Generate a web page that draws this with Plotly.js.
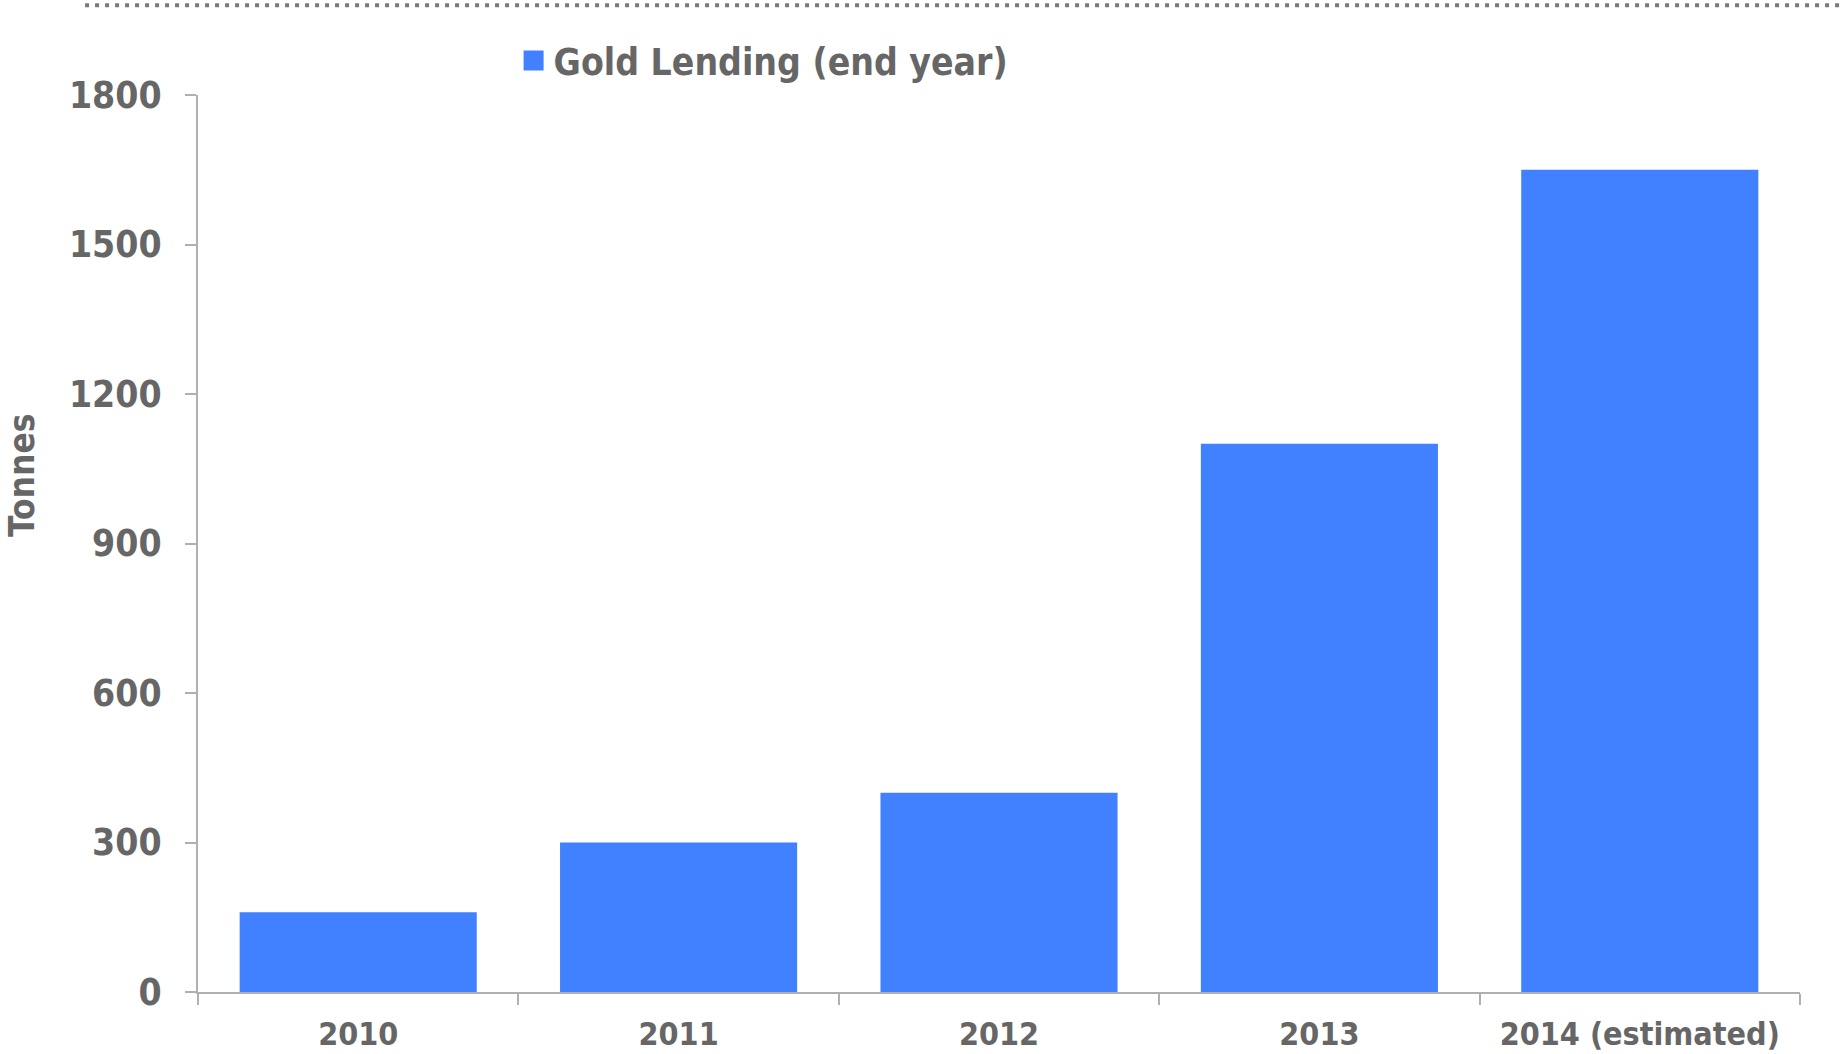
<!DOCTYPE html>
<html>
<head>
<meta charset="utf-8">
<script src="https://cdn.plot.ly/plotly-3.0.1.min.js"></script>
<style>
  html, body { margin: 0; padding: 0; background: #ffffff; }
  #chart { width: 1843px; height: 1054px; }
</style>
</head>
<body>
<div id="chart"></div>
<script>
const categories = ["2010", "2011", "2012", "2013", "2014 (estimated)"];
const lendingTonnes = [160, 300, 400, 1100, 1650];
const seriesName = "Gold Lending (end year)";
const yTickValues = [0, 300, 600, 900, 1200, 1500, 1800];
const yAxisLabel = "Tonnes";

const FONT = "DejaVu Sans Condensed, DejaVu Sans, sans-serif";
const TEXT = "#666666";
const BAR = "#4181ff";
const AXIS = "#b0b0b0";

const trace = {
  type: "bar",
  x: categories,
  y: lendingTonnes,
  name: seriesName,
  marker: { color: BAR },
  showlegend: true,
  hoverinfo: "x+y"
};

const layout = {
  width: 1843,
  height: 1054,
  margin: { l: 198, r: 43, t: 95, b: 62, pad: 0 },
  paper_bgcolor: "#ffffff",
  plot_bgcolor: "#ffffff",
  bargap: 0.26,
  showlegend: true,
  legend: {
    orientation: "h",
    x: 0.197, xanchor: "left",
    y: 1.038, yanchor: "middle",
    font: { family: FONT, size: 37, color: TEXT, weight: "bold" },
    bgcolor: "rgba(0,0,0,0)",
    borderwidth: 0
  },
  xaxis: {
    type: "category",
    showline: true, linecolor: AXIS, linewidth: 2,
    ticks: "outside", tickson: "boundaries", ticklen: 11, tickwidth: 2, tickcolor: AXIS,
    showgrid: false, zeroline: false,
    tickfont: { family: FONT, size: 32, color: TEXT, weight: "bold" },
    ticklabelstandoff: 13
  },
  yaxis: {
    range: [0, 1800],
    tickvals: yTickValues,
    ticktext: yTickValues.map(String),
    showline: true, linecolor: AXIS, linewidth: 2,
    ticks: "outside", ticklen: 11, tickwidth: 2, tickcolor: AXIS,
    showgrid: false, zeroline: false,
    tickfont: { family: FONT, size: 37, color: TEXT, weight: "bold" },
    ticklabelstandoff: 16
  },
  annotations: [{
    text: yAxisLabel,
    xref: "paper", yref: "paper",
    x: -0.1095, y: 0.576,
    xanchor: "center", yanchor: "middle",
    textangle: -90,
    showarrow: false,
    font: { family: FONT, size: 35, color: TEXT, weight: "bold" }
  }],
  shapes: [{
    type: "line",
    xref: "paper", yref: "paper",
    x0: -0.0705, x1: 1.03,
    y0: 1.1, y1: 1.1,
    line: { color: "#7a7a7a", width: 4, dash: "4px,6px" }
  }]
};

Plotly.newPlot("chart", [trace], layout, { displayModeBar: false, staticPlot: true }).then(function () {
  document.querySelectorAll("#chart .legendpoints path").forEach(function (p) {
    p.setAttribute("d", "M10,10H-10V-10H10Z");
  });
});
</script>
</body>
</html>
